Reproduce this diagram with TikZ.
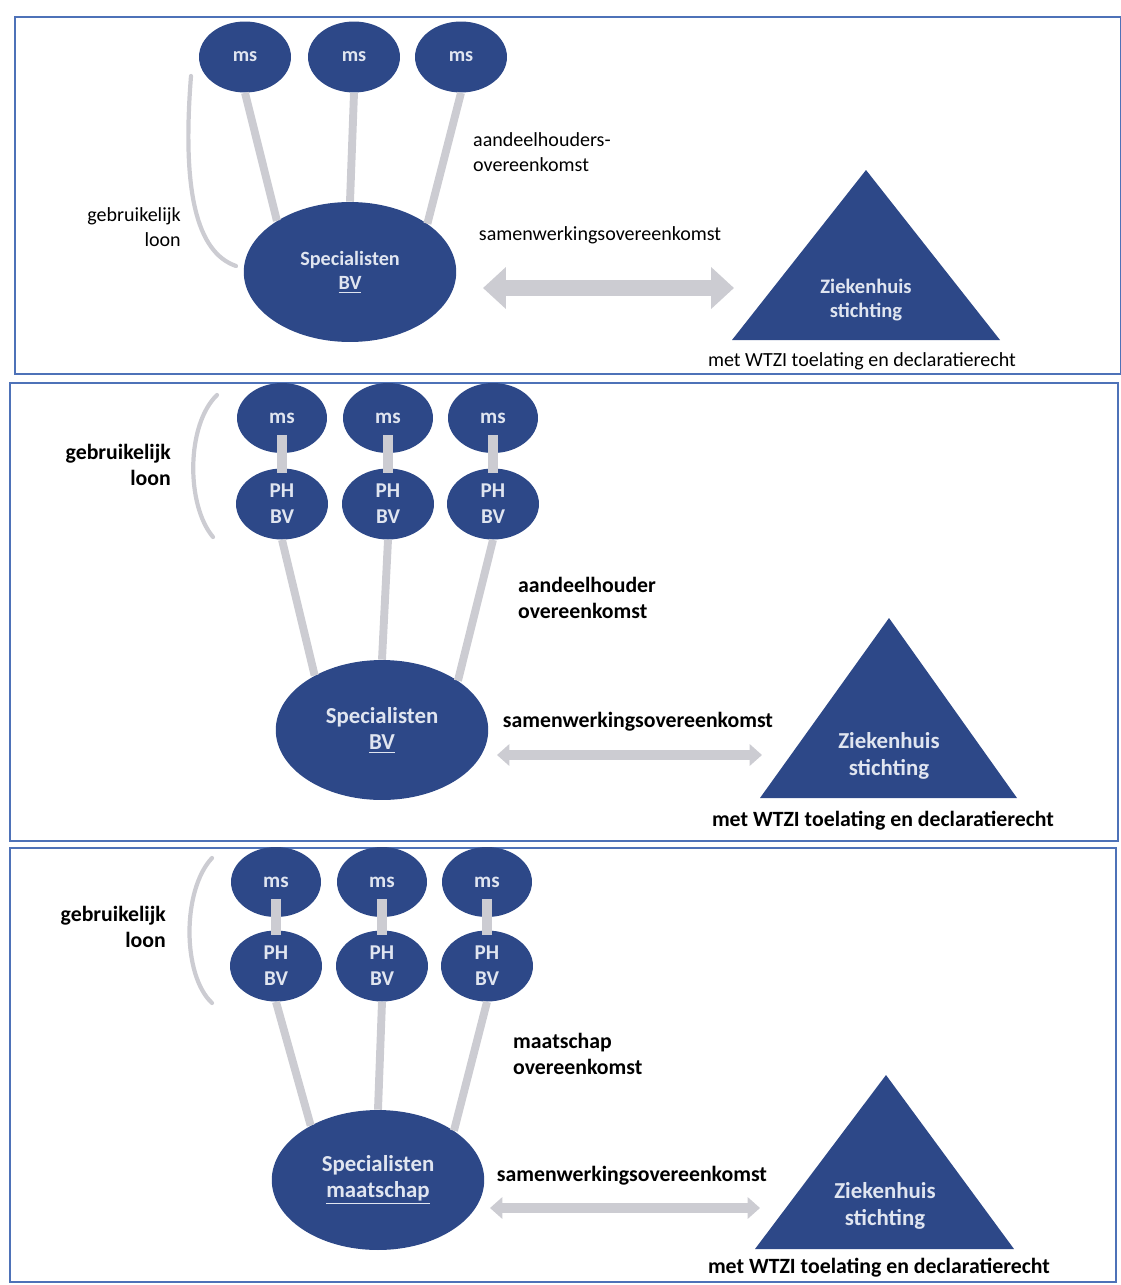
\documentclass[tikz,border=0pt]{standalone}
\usepackage{fontspec}
\setmainfont{Carlito}
\usetikzlibrary{shapes.geometric,arrows.meta}

\definecolor{ovalBlue}{RGB}{45,72,136}
\definecolor{ovalText}{RGB}{224,229,240}
\definecolor{linkGrey}{RGB}{204,204,210}
\definecolor{frameBlue}{RGB}{78,114,184}

\begin{document}
\begin{tikzpicture}
[x=0.02cm,y=-0.02cm,
 msDecorate/.style={shape=ellipse,fill=ovalBlue,text=ovalText,inner sep=0pt,
   minimum width=1.84cm,minimum height=1.42cm,align=center,
   font=\fontsize{11.5}{14}\selectfont\bfseries},
 specDecorate/.style={shape=ellipse,fill=ovalBlue,text=ovalText,inner sep=0pt,
   minimum width=4.25cm,minimum height=2.8cm,align=center,
   font=\fontsize{11.5}{14}\selectfont\bfseries},
 bigLabel/.style={font=\fontsize{12}{14.8}\selectfont\bfseries},
 hospitalDecorate/.style={fill=ovalBlue},
 zhDecorate/.style={text=ovalText,align=center,font=\fontsize{11.7}{14}\selectfont\bfseries},
 lineDecorate/.style={-,line width=4.5pt,draw=linkGrey},
 stubDecorate/.style={-,line width=5.7pt,draw=linkGrey},
 loonDecorate/.style={-,line width=2.4pt,draw=linkGrey,line cap=round},
 bigArrow/.style={{Triangle[width=23pt,length=13pt]}-{Triangle[width=23pt,length=13pt]},
   line width=9pt,draw=linkGrey,fill=linkGrey},
 smallArrow/.style={{Triangle[width=12pt,length=7pt]}-{Triangle[width=12pt,length=7pt]},
   line width=5.5pt,draw=linkGrey,fill=linkGrey},
 textDecorate/.style={font=\fontsize{11.4}{14}\selectfont},
 boldText/.style={font=\fontsize{12.4}{14.8}\selectfont\bfseries},
 frameDecorate/.style={draw=frameBlue,line width=1.2pt}]
\useasboundingbox (0,0) rectangle (1121,1285);

%% panel one: specialisten BV
\draw[frameDecorate] (15,17) rectangle (1121,374);
\foreach \nodename/\x in {a1/245, a2/354, a3/461} {
  \node (\nodename) at (\x,57) [msDecorate] {ms};
}
\node (s1) at (350,272) [specDecorate] {Specialisten\\\underline{BV}};
\path
\foreach \startnode/\endangle in {a1/145, a2/90, a3/32} {
  (\startnode.south) edge[lineDecorate] (s1.\endangle)
};
\draw[loonDecorate] (191,76) .. controls (182,190) and (196,252) .. (236,266);
\node (g1) at (187,227) [anchor=east,align=right,textDecorate] {gebruikelijk\\loon};
\node (h1) at (467,152) [anchor=west,align=left,textDecorate] {aandeelhouders-\\overeenkomst};
\node (w1) at (600,235) [textDecorate] {samenwerkingsovereenkomst};
\coordinate (l1) at (483,288);
\coordinate (r1) at (734,288);
\draw[bigArrow] (l1) -- (r1);
\fill[hospitalDecorate] (866,170) -- (1000,340) -- (732,340) -- cycle;
\node (z1) at (866,300) [zhDecorate] {Ziekenhuis\\stichting};
\node (m1) at (862,361) [textDecorate] {met WTZI toelating en declaratierecht};

%% panel two: PH BV's in specialisten BV
\draw[frameDecorate] (10,383) rectangle (1118,841);
\foreach \nodename/\x in {b1/282, b2/388, b3/493} {
  \node (\nodename) at (\x,418) [msDecorate,bigLabel,minimum width=1.8cm,minimum height=1.4cm] {ms};
}
\foreach \nodename/\x in {p1/282, p2/388, p3/493} {
  \node (\nodename) at (\x,504) [msDecorate,bigLabel] {PH\\BV};
}
\node (s2) at (382,730) [specDecorate,font=\fontsize{13}{15}\selectfont\bfseries] {Specialisten\\\underline{BV}};
\path
\foreach \startnode/\endnode in {b1/p1, b2/p2, b3/p3} {
  ([yshift=0.37cm]\startnode.south) edge[stubDecorate] ([yshift=-0.1cm]\endnode.north)
};
\path
\foreach \startnode/\endangle in {p1/141, p2/90, p3/33} {
  (\startnode.south) edge[lineDecorate] (s2.\endangle)
};
\draw[loonDecorate] (217,395) .. controls (186,425) and (186,505) .. (213,537);
\node (g2) at (177,465) [anchor=east,align=right,boldText] {gebruikelijk\\loon};
\node (h2) at (512,598) [anchor=west,align=left,boldText] {aandeelhouder\\overeenkomst};
\node (w2) at (638,722) [boldText] {samenwerkingsovereenkomst};
\coordinate (l2) at (497,755);
\coordinate (r2) at (762,755);
\draw[smallArrow] (l2) -- (r2);
\fill[hospitalDecorate] (889,618) -- (1017,798) -- (760,798) -- cycle;
\node (z2) at (889,756) [zhDecorate,font=\fontsize{13}{15}\selectfont\bfseries] {Ziekenhuis\\stichting};
\node (m2) at (883,821) [boldText] {met WTZI toelating en declaratierecht};

%% panel three: PH BV's in specialisten maatschap
\draw[frameDecorate] (10,848) rectangle (1116,1282);
\foreach \nodename/\x in {c1/276, c2/382, c3/487} {
  \node (\nodename) at (\x,882) [msDecorate,bigLabel,minimum width=1.8cm,minimum height=1.4cm] {ms};
}
\foreach \nodename/\x in {q1/276, q2/382, q3/487} {
  \node (\nodename) at (\x,966) [msDecorate,bigLabel] {PH\\BV};
}
\node (s3) at (378,1180) [specDecorate,font=\fontsize{13}{15}\selectfont\bfseries] {Specialisten\\\underline{maatschap}};
\path
\foreach \startnode/\endnode in {c1/q1, c2/q2, c3/q3} {
  ([yshift=0.37cm]\startnode.south) edge[stubDecorate] ([yshift=-0.1cm]\endnode.north)
};
\path
\foreach \startnode/\endangle in {q1/141, q2/90, q3/33} {
  (\startnode.south) edge[lineDecorate] (s3.\endangle)
};
\draw[loonDecorate] (212,858) .. controls (182,890) and (182,975) .. (212,1003);
\node (g3) at (172,927) [anchor=east,align=right,boldText] {gebruikelijk\\loon};
\node (h3) at (507,1054) [anchor=west,align=left,boldText] {maatschap\\overeenkomst};
\node (w3) at (632,1176) [boldText] {samenwerkingsovereenkomst};
\coordinate (l3) at (490,1208);
\coordinate (r3) at (760,1208);
\draw[smallArrow] (l3) -- (r3);
\fill[hospitalDecorate] (886,1075) -- (1014,1249) -- (755,1249) -- cycle;
\node (z3) at (885,1206) [zhDecorate,font=\fontsize{13}{15}\selectfont\bfseries] {Ziekenhuis\\stichting};
\node (m3) at (879,1268) [boldText] {met WTZI toelating en declaratierecht};
\end{tikzpicture}
\end{document}
